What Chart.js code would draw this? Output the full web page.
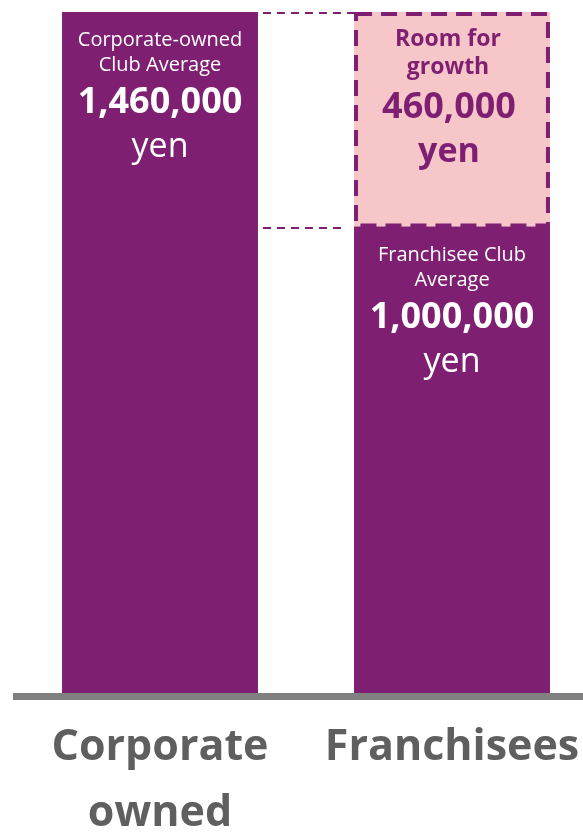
<!DOCTYPE html>
<html>
<head>
<meta charset="utf-8">
<script src="https://cdn.jsdelivr.net/npm/chart.js@4/dist/chart.umd.min.js"></script>
<style>
  html, body { margin: 0; padding: 0; background: #ffffff; overflow: hidden; }
  #wrap { position: relative; width: 598px; height: 832px; }
</style>
</head>
<body>
<div id="wrap"><canvas id="chart"></canvas></div>
<script>
// Average annual revenue per club, in yen
const categories = [["Corporate", "owned"], "Franchisees"];
const averageValues = [1460000, 1000000];
const growthValues = [0, 460000];
const averageCaptions = [["Corporate-owned", "Club Average"], ["Franchisee Club", "Average"]];
const growthCaption = ["Room for", "growth"];
const unitLabel = "yen";

const PURPLE = "#7E1F72";
const PINK = "#F6C6C9";
const FONT = "'Open Sans', 'DejaVu Sans', sans-serif";

const fmt = v => v.toLocaleString("en-US");

// Captions, dashed growth box, connector lines and the baseline
const annotate = {
  id: "annotate",
  afterDatasetsDraw(chart) {
    const ctx = chart.ctx;
    const area = chart.chartArea;
    const yScale = chart.scales.y;
    const base = chart.getDatasetMeta(0).data;
    const growth = chart.getDatasetMeta(1).data;

    ctx.save();
    ctx.textAlign = "center";
    ctx.textBaseline = "alphabetic";

    // captions inside the average bars
    base.forEach((bar, i) => {
      const top = bar.y;
      ctx.fillStyle = "#ffffff";
      ctx.font = `400 20px ${FONT}`;
      ctx.fillText(averageCaptions[i][0], bar.x, top + 34);
      ctx.fillText(averageCaptions[i][1], bar.x, top + 59);
      ctx.font = `700 36px ${FONT}`;
      ctx.fillText(fmt(averageValues[i]), bar.x, top + 101);
      ctx.font = `400 34px ${FONT}`;
      ctx.fillText(unitLabel, bar.x, top + 145);
    });

    // dashed outline and caption of the growth segment
    growth.forEach((seg, i) => {
      if (!growthValues[i]) return;
      const left = seg.x - seg.width / 2;
      const top = seg.y;
      const h = seg.base - seg.y;
      ctx.strokeStyle = PURPLE;
      ctx.lineWidth = 4;
      ctx.setLineDash([16, 9]);
      ctx.strokeRect(left + 2, top + 2, seg.width - 4, h - 3);

      ctx.fillStyle = PURPLE;
      ctx.font = `700 23px ${FONT}`;
      ctx.fillText(growthCaption[0], seg.x - 4, top + 34);
      ctx.fillText(growthCaption[1], seg.x - 4, top + 62);
      ctx.font = `700 36px ${FONT}`;
      ctx.fillText(fmt(growthValues[i]), seg.x - 3, top + 106);
      ctx.font = `700 34px ${FONT}`;
      ctx.fillText(unitLabel, seg.x - 3, top + 150);
    });

    // dashed connectors between the two bar tops
    const fromX = base[0].x + base[0].width / 2 + 5;
    const toX = base[1].x - base[1].width / 2;
    ctx.strokeStyle = PURPLE;
    ctx.lineWidth = 2;
    ctx.setLineDash([8, 6]);
    [averageValues[0], averageValues[1]].forEach((v, k) => {
      const y = Math.round(yScale.getPixelForValue(v)) + 1;
      ctx.beginPath();
      ctx.moveTo(fromX, y);
      ctx.lineTo(k === 0 ? toX : toX - 8, y);
      ctx.stroke();
    });

    // baseline
    ctx.setLineDash([]);
    ctx.fillStyle = "#808080";
    ctx.fillRect(area.left - 1, area.bottom, area.right - area.left + 1, 7);
    ctx.restore();
  }
};

new Chart(document.getElementById("chart"), {
  type: "bar",
  data: {
    labels: categories,
    datasets: [
      { label: "Average", data: averageValues, backgroundColor: PURPLE, borderWidth: 0 },
      { label: "Room for growth", data: growthValues, backgroundColor: PINK, borderWidth: 0 }
    ]
  },
  options: {
    responsive: true,
    maintainAspectRatio: false,
    animation: false,
    datasets: { bar: { barPercentage: 1, categoryPercentage: 0.671 } },
    layout: { padding: { top: 12, left: 14, right: 0, bottom: 0 } },
    plugins: { legend: { display: false }, tooltip: { enabled: false } },
    scales: {
      x: {
        stacked: true,
        grid: { display: false, drawTicks: false },
        border: { display: false },
        afterFit: scale => {
          scale.height = 139;
          scale.paddingLeft = 0;
          scale.paddingRight = 0;
        },
        ticks: {
          color: "#5F5F5F",
          font: { family: FONT, size: 43, weight: "bold", lineHeight: 66 / 43 },
          padding: 22,
          maxRotation: 0,
          autoSkip: false
        }
      },
      y: {
        stacked: true,
        display: false,
        min: 0,
        max: averageValues[0] + growthValues[0]
      }
    }
  },
  plugins: [annotate]
});
</script>
</body>
</html>
